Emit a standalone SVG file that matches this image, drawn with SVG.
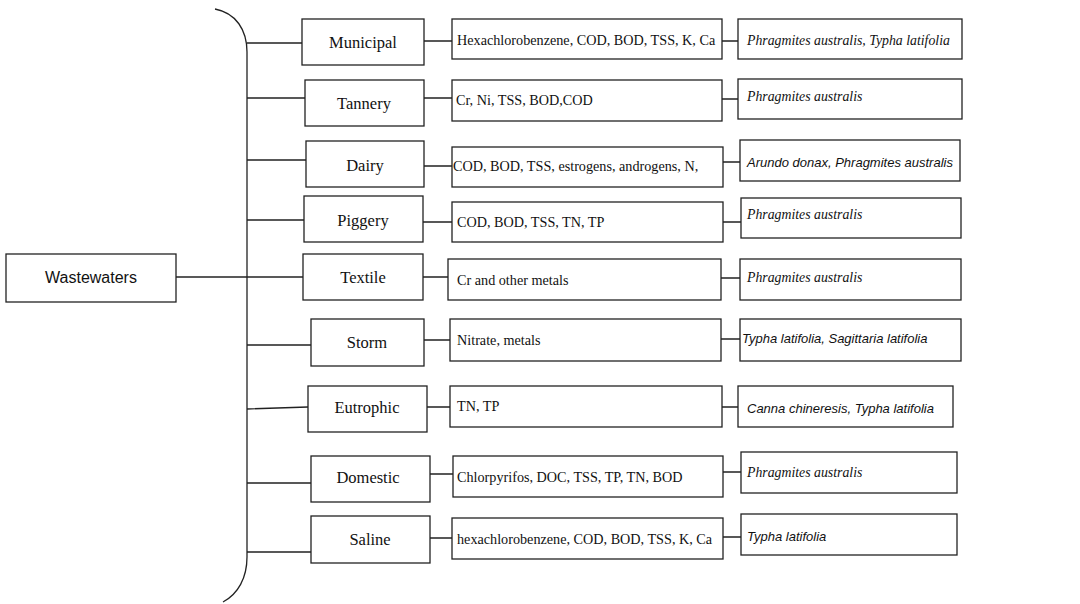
<svg xmlns="http://www.w3.org/2000/svg" width="1080" height="604" viewBox="0 0 1080 604">
<style>
.b{fill:#fff;stroke:#222;stroke-width:1.3}
.c{fill:none;stroke:#222;stroke-width:1.3}
.n{font-family:"Liberation Serif",serif;font-size:16.5px;fill:#111;text-anchor:middle}
.m{font-family:"Liberation Serif",serif;font-size:14.2px;fill:#111}
.si{font-family:"Liberation Serif",serif;font-size:13.8px;font-style:italic;fill:#111}
.sa{font-family:"Liberation Sans",sans-serif;font-size:13px;font-style:italic;fill:#111}
.w{font-family:"Liberation Sans",sans-serif;font-size:16px;fill:#111;text-anchor:middle}
</style>
<rect width="1080" height="604" fill="#fff"/>
<g id="connectors">
<path class="c" d="M215,9 C236,13 247,30 247,52 L247,557 C247,578 238,594 223,602"/>
<path class="c" d="M176,277 H303"/>
<path class="c" d="M247,43 H302 M424,41 H452 M722,41 H738"/>
<path class="c" d="M247,98 H305 M424,98 H452 M722,99 H738"/>
<path class="c" d="M247,160 H306 M424,166 H452 M723,162 H740"/>
<path class="c" d="M247,220 H304 M423,222 H452 M723,222 H741"/>
<path class="c" d="M423,277 H448 M721,278 H740"/>
<path class="c" d="M247,345 H311 M424,340 H450 M721,339 H740"/>
<path class="c" d="M247,409 L308,407 M427,407 H450 M722,407 H738"/>
<path class="c" d="M247,483 H311 M430,474 H453 M723,472 H741"/>
<path class="c" d="M247,552 H311 M430,538 H452 M723,537 H741"/>
</g>
<g id="wastewaters"><rect class="b" x="6" y="254" width="170" height="48"/><text class="w" x="91" y="283">Wastewaters</text></g>
<g id="municipal"><rect class="b" x="302" y="19" width="122" height="46"/><text class="n" x="363" y="48">Municipal</text></g>
<g id="municipal-pollutants"><rect class="b" x="452" y="19" width="270" height="40"/><text class="m" x="457" y="45">Hexachlorobenzene, COD, BOD, TSS, K, Ca</text></g>
<g id="municipal-plants"><rect class="b" x="738" y="19" width="224" height="40"/><text class="si" x="747" y="45">Phragmites australis, Typha latifolia</text></g>
<g id="tannery"><rect class="b" x="305" y="80" width="119" height="46"/><text class="n" x="364" y="109">Tannery</text></g>
<g id="tannery-pollutants"><rect class="b" x="452" y="80" width="270" height="41"/><text class="m" x="456" y="105">Cr, Ni, TSS, BOD,COD</text></g>
<g id="tannery-plants"><rect class="b" x="738" y="79" width="224" height="40"/><text class="si" x="747" y="101">Phragmites australis</text></g>
<g id="dairy"><rect class="b" x="306" y="141" width="118" height="46"/><text class="n" x="365" y="171">Dairy</text></g>
<g id="dairy-pollutants"><rect class="b" x="452" y="147" width="271" height="40"/><text class="m" x="453" y="171">COD, BOD, TSS, estrogens, androgens, N,</text></g>
<g id="dairy-plants"><rect class="b" x="740" y="140" width="220" height="41"/><text class="sa" x="747" y="167">Arundo donax, Phragmites australis</text></g>
<g id="piggery"><rect class="b" x="304" y="196" width="119" height="46"/><text class="n" x="363" y="226">Piggery</text></g>
<g id="piggery-pollutants"><rect class="b" x="452" y="202" width="271" height="40"/><text class="m" x="457" y="227">COD, BOD, TSS, TN, TP</text></g>
<g id="piggery-plants"><rect class="b" x="741" y="198" width="220" height="40"/><text class="si" x="747" y="219">Phragmites australis</text></g>
<g id="textile"><rect class="b" x="303" y="254" width="120" height="46"/><text class="n" x="363" y="283">Textile</text></g>
<g id="textile-pollutants"><rect class="b" x="448" y="259" width="273" height="41"/><text class="m" x="457" y="285">Cr and other metals</text></g>
<g id="textile-plants"><rect class="b" x="740" y="259" width="221" height="41"/><text class="si" x="747" y="282">Phragmites australis</text></g>
<g id="storm"><rect class="b" x="311" y="319" width="113" height="47"/><text class="n" x="367" y="348">Storm</text></g>
<g id="storm-pollutants"><rect class="b" x="450" y="319" width="271" height="42"/><text class="m" x="457" y="345">Nitrate, metals</text></g>
<g id="storm-plants"><rect class="b" x="740" y="319" width="221" height="42"/><text class="sa" x="742" y="343">Typha latifolia, Sagittaria latifolia</text></g>
<g id="eutrophic"><rect class="b" x="308" y="386" width="119" height="46"/><text class="n" x="367" y="413">Eutrophic</text></g>
<g id="eutrophic-pollutants"><rect class="b" x="450" y="386" width="272" height="41"/><text class="m" x="457" y="411">TN, TP</text></g>
<g id="eutrophic-plants"><rect class="b" x="738" y="386" width="215" height="41"/><text class="sa" x="747" y="413">Canna chineresis, Typha latifolia</text></g>
<g id="domestic"><rect class="b" x="311" y="456" width="119" height="46"/><text class="n" x="368" y="483">Domestic</text></g>
<g id="domestic-pollutants"><rect class="b" x="453" y="456" width="270" height="41"/><text class="m" x="457" y="482">Chlorpyrifos, DOC, TSS, TP, TN, BOD</text></g>
<g id="domestic-plants"><rect class="b" x="741" y="452" width="216" height="41"/><text class="si" x="747" y="477">Phragmites australis</text></g>
<g id="saline"><rect class="b" x="311" y="516" width="119" height="47"/><text class="n" x="370" y="545">Saline</text></g>
<g id="saline-pollutants"><rect class="b" x="452" y="518" width="271" height="41"/><text class="m" x="457" y="544">hexachlorobenzene, COD, BOD, TSS, K, Ca</text></g>
<g id="saline-plants"><rect class="b" x="741" y="514" width="216" height="41"/><text class="sa" x="747" y="541">Typha latifolia</text></g>
</svg>
